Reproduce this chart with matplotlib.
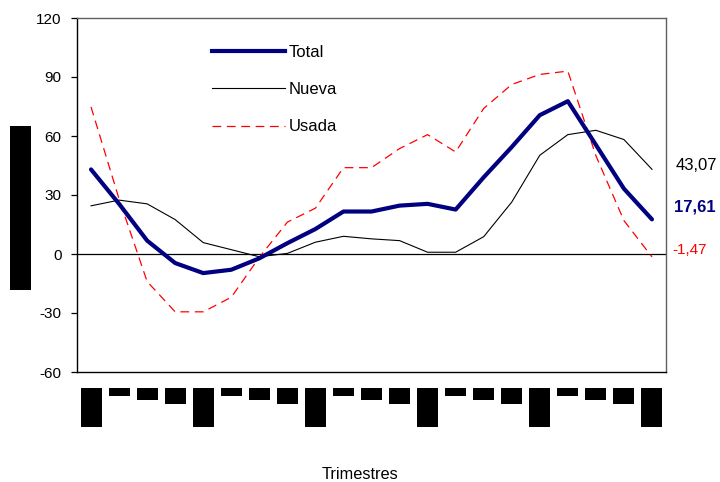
import matplotlib
matplotlib.use("Agg")
import matplotlib.pyplot as plt
from matplotlib.patches import Rectangle
from matplotlib.lines import Line2D

plt.rcParams['font.family'] = ['Liberation Sans', 'DejaVu Sans']
plt.rcParams['axes.unicode_minus'] = False

# Quarterly balances, 21 quarters
quarters = ["I", "II", "III", "IV"] * 5 + ["I"]
total = [43.0, 25.5, 6.8, -4.6, -9.7, -8.0, -2.2, 5.5, 12.7, 21.6, 21.6,
         24.6, 25.5, 22.6, 39.0, 54.4, 70.6, 77.7, 55.5, 33.2, 17.61]
nueva = [24.5, 27.4, 25.5, 17.5, 5.8, 2.2, -1.4, 0.3, 6.0, 9.0, 7.7,
         6.8, 0.9, 0.9, 8.8, 26.4, 50.2, 60.7, 62.9, 58.2, 43.07]
usada = [74.8, 28.0, -14.0, -29.4, -29.4, -22.0, -1.7, 16.2, 23.3, 43.9, 43.9,
         53.6, 60.7, 51.9, 74.0, 86.2, 91.3, 93.0, 50.0, 17.0, -1.47]
series_names = ["Total", "Nueva", "Usada"]
last_labels = ["17,61", "43,07", "-1,47"]

W, H = 720, 482
fig = plt.figure(figsize=(W / 100, H / 100), dpi=100)
ax = fig.add_axes([77 / W, 1 - 372 / H, (666 - 77) / W, (372 - 18) / H])

USADA_DASH = (7, 4.5)

x = list(range(len(quarters)))
ax.plot(x, total, color="#000080", lw=3.0, solid_joinstyle="round",
        solid_capstyle="round", zorder=4)
ax.plot(x, nueva, color="black", lw=0.8, zorder=3)
ax.plot(x, usada, color="#ff0000", lw=0.9, dashes=USADA_DASH, zorder=3)

ax.axhline(0, color="black", lw=0.9, zorder=2)

ax.set_xlim(-0.5, len(quarters) - 0.5)
ax.set_ylim(-60, 120)
ax.set_yticks(range(-60, 121, 30))
ax.set_xticks([])
ax.tick_params(axis="y", direction="out", length=4.5, width=0.9,
               pad=6.5, labelsize=11)

for side in ("left", "bottom"):
    ax.spines[side].set_color("black")
    ax.spines[side].set_linewidth(1.0)
for side in ("top", "right"):
    ax.spines[side].set_color("#606060")
    ax.spines[side].set_linewidth(1.0)

# Legend
handles = [
    Line2D([], [], color="#000080", lw=3.0),
    Line2D([], [], color="black", lw=0.8),
    Line2D([], [], color="#ff0000", lw=0.9, dashes=USADA_DASH),
]
ax.legend(handles, series_names, loc="upper left",
          bbox_to_anchor=(212 / W, 1 - 45 / H), bbox_transform=fig.transFigure,
          frameon=False, fontsize=12, handlelength=4.4, handletextpad=0.2,
          labelspacing=1.33, borderpad=0, borderaxespad=0)

# Final-value labels at the right of the plot
ytr = ax.get_yaxis_transform()
ax.text(1.017, 44.9, last_labels[1], transform=ytr, fontsize=12,
        color="black", va="center", ha="left")
ax.text(1.013, 24.0, last_labels[0], transform=ytr, fontsize=12,
        color="#000080", fontweight="bold", va="center", ha="left")
ax.text(1.010, 2.0, last_labels[2], transform=ytr, fontsize=11,
        color="#ff0000", va="center", ha="left")

# Category label blocks under the axis
xtr = ax.get_xaxis_transform()
block_depth = {"I": 0.110, "II": 0.0226, "III": 0.0339, "IV": 0.0452}
top = -0.0452
for i, q in enumerate(quarters):
    d = block_depth[q]
    ax.add_patch(Rectangle((i - 0.375, top - d), 0.75, d, transform=xtr,
                           facecolor="black", edgecolor="none", clip_on=False))

# Axis title block
fig.add_artist(Rectangle((10 / W, 1 - 290 / H), 21 / W, 164 / H,
                         transform=fig.transFigure, facecolor="black",
                         edgecolor="none"))

fig.text(0.5, 1 - 479 / H, "Trimestres", ha="center", va="baseline",
         fontsize=11.8)

fig.savefig("out.png", dpi=100)
